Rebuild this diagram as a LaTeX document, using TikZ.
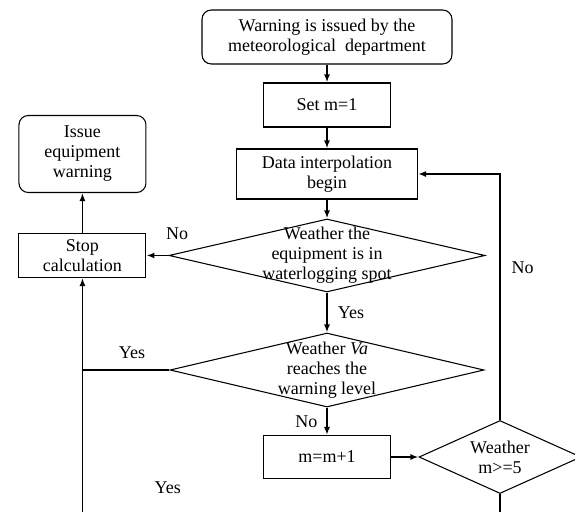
\documentclass[tikz,border=0pt]{standalone}
\usepackage{fontspec}
\setmainfont{Liberation Serif}
\usetikzlibrary{positioning,shapes.geometric,arrows.meta}

\begin{document}
\begin{tikzpicture}
	[>={Latex[length=6pt,width=4.5pt]}, node distance=2cm, on grid,
	 font=\fontsize{13.5}{15}\selectfont,
	 every node/.style={inner sep=0pt},
	 box/.style={draw, line width=0.8pt, align=center, minimum width=95.25pt, minimum height=33pt},
	 rbox/.style={box, rounded corners=7pt},
	 dia/.style={draw, diamond, line width=0.8pt},
	 dtext/.style={align=center},
	 link/.style={line width=1.3pt}]
\useasboundingbox (-245.25pt,27.75pt) rectangle (186pt,-356.25pt);
\clip (-245.25pt,27.75pt) rectangle (186pt,-356.25pt);
\coordinate (bot) at (0,-356.25pt);

\node[rbox, minimum width=187.5pt, minimum height=40.5pt](warn){Warning is issued by the\\meteorological\ \ department};
\node[box](setm)[below=51pt of warn]{Set m=1};
\node[box, minimum width=135.75pt, minimum height=37.5pt](interp)[below=51.75pt of setm]{Data interpolation\\begin};
\node[dia, minimum width=237pt, minimum height=54.75pt](dia1)[below=61.1pt of interp]{};
\node[dtext](dia1t) at (dia1){Weather the\\equipment is in\\waterlogging spot};
\node[dia, minimum width=235.5pt, minimum height=55.5pt](dia2)[below=85.9pt of dia1]{};
\node[dtext](dia2t) at (dia2){Weather \textit{Va}\\reaches the\\warning level};
\node[box, minimum height=32.25pt](incr)[below=65.25pt of dia2]{m=m+1};
\node[dia, minimum width=121.5pt, minimum height=54.75pt](dia3)[right=129.75pt of incr]{};
\node[dtext](dia3t) at (dia3){Weather\\m>=5};
\node[box](stop)[left=183.4pt of dia1]{Stop\\calculation};
\node[rbox, minimum height=57.75pt](issue)[above=76.1pt of stop]{Issue\\equipment\\warning};

\coordinate (join) at (stop |- dia2.west);
\coordinate (botL) at (stop |- bot);
\coordinate (botR) at (dia3 |- bot);
\node(yes3)[above right=13.5pt and 54pt of botL]{Yes};

\path[->, link]
	(warn)   edge (setm)
	(setm)   edge (interp)
	(interp) edge (dia1)
	(dia1)   edge node[pos=-0.4, above=11pt] (no1) {No} (stop)
	(stop)   edge (issue)
	(dia1)   edge node[right=7.5pt] (yes1) {Yes} (dia2)
	(dia2)   edge node[left=6.5pt] (no2) {No} (incr)
	(incr)   edge (dia3);

\draw[->, link] (dia3.north) |- node[pos=0.31, right=8pt] (no3) {No} (interp.east);
\draw[link] (dia2.west) -- node[pos=0.43, above=8pt] (yes2) {Yes} (join);
\draw[->, link] (botL) -- (stop);
\draw[link] (dia3) -- (botR);

\end{tikzpicture}
\end{document}
